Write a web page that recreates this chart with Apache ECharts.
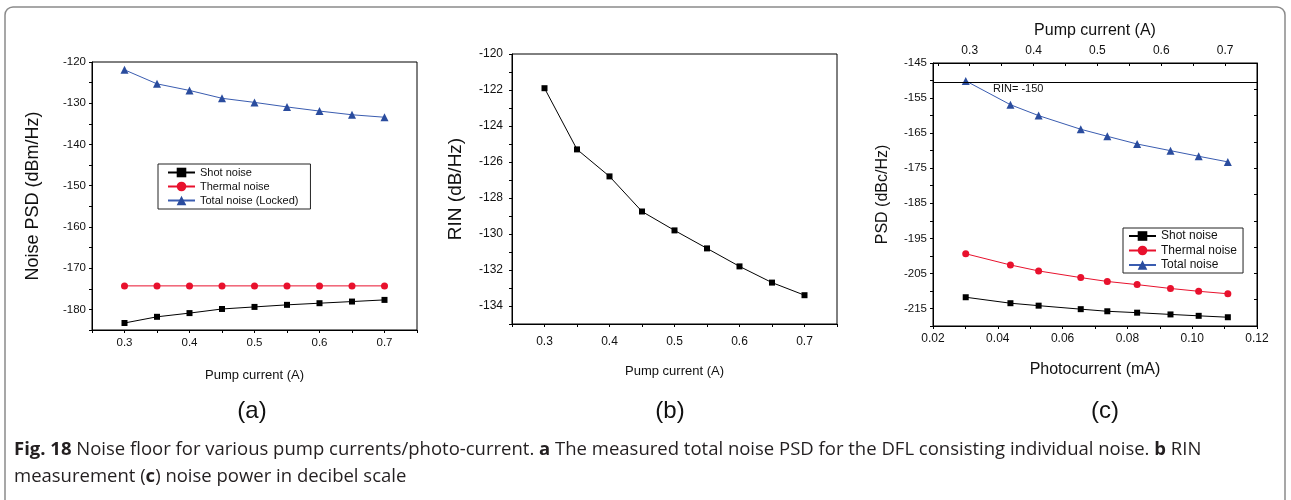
<!DOCTYPE html>
<html>
<head>
<meta charset="utf-8">
<script src="https://cdn.jsdelivr.net/npm/echarts@6/dist/echarts.min.js"></script>
<style>
html,body{margin:0;padding:0;background:#fff;}
#chart{width:1291px;height:500px;}
</style>
</head>
<body>
<div id="chart"></div>
<script>
// ---------- data ----------
const pumpCurrent = [0.3, 0.35, 0.4, 0.45, 0.5, 0.55, 0.6, 0.65, 0.7];
const aShot    = [-183.3, -181.8, -180.9, -179.9, -179.4, -178.9, -178.5, -178.1, -177.7];
const aThermal = [-174.3, -174.3, -174.3, -174.3, -174.3, -174.3, -174.3, -174.3, -174.3];
const aTotal   = [-121.9, -125.3, -126.9, -128.8, -129.8, -130.9, -131.9, -132.8, -133.4];
const bRIN     = [-121.9, -125.3, -126.8, -128.75, -129.8, -130.8, -131.8, -132.7, -133.4];
const photocurrent = [0.0301, 0.0439, 0.0526, 0.0656, 0.0738, 0.0830, 0.0933, 0.1020, 0.1110];
const cShot    = [-211.8, -213.5, -214.2, -215.2, -215.8, -216.2, -216.7, -217.1, -217.5];
const cThermal = [-199.4, -202.6, -204.3, -206.2, -207.3, -208.2, -209.3, -210.1, -210.8];
const cTotal   = [-150.1, -156.9, -160.0, -163.9, -165.9, -168.1, -170.0, -171.6, -173.2];
const rinLevel = -150.4;

// tick / label values
const pumpTicks  = [0.25, 0.3, 0.35, 0.4, 0.45, 0.5, 0.55, 0.6, 0.65, 0.7, 0.75];
const pumpLabels = [0.3, 0.4, 0.5, 0.6, 0.7];
const aYTicks  = [-185, -180, -175, -170, -165, -160, -155, -150, -145, -140, -135, -130, -125, -120];
const aYLabels = [-180, -170, -160, -150, -140, -130, -120];
const bYTicks  = [-135, -134, -133, -132, -131, -130, -129, -128, -127, -126, -125, -124, -123, -122, -121, -120];
const bYLabels = [-134, -132, -130, -128, -126, -124, -122, -120];
const cYTicks  = [-220, -215, -210, -205, -200, -195, -190, -185, -180, -175, -170, -165, -160, -155, -150, -145];
const cYLabels = [-215, -205, -195, -185, -175, -165, -155, -145];
const cYRightTicks = [-152.5, -160, -167.5, -175, -182.5, -190, -197.5, -205, -212.5];
const cXTicks  = [0.02, 0.03, 0.04, 0.05, 0.06, 0.07, 0.08, 0.09, 0.10, 0.11, 0.12];
const cXLabels = [0.02, 0.04, 0.06, 0.08, 0.10, 0.12];
const cTopTicks = [0.25, 0.3, 0.35, 0.4, 0.45, 0.5, 0.55, 0.6, 0.65, 0.7, 0.75];

const zip = (xs, ys) => xs.map((x, i) => [x, ys[i]]);

const FONT = "'Liberation Sans', Arial, sans-serif";
const CAPFONT = "'Open Sans', sans-serif";
const BLACK = '#000';
const RED = '#e8112d';
const BLUE_LINE = '#3a5cb0';
const BLUE_MARK = '#2a4c9e';

function axis(opts) {
  const fs = opts.fontSize || 12;
  return {
    type: 'value',
    gridIndex: opts.grid,
    position: opts.position,
    min: opts.min, max: opts.max,
    name: opts.name || '',
    nameLocation: 'middle',
    nameGap: opts.nameGap || 30,
    nameTextStyle: { fontFamily: FONT, fontSize: opts.nameSize || 14, color: '#111' },
    axisLine: { show: true, onZero: false, lineStyle: { color: BLACK, width: 1 } },
    axisTick: { show: opts.ticks !== false, inside: !!opts.inside, length: 3,
                customValues: opts.ticks || undefined, lineStyle: { color: BLACK, width: 1 } },
    axisLabel: { show: !!opts.labels, customValues: opts.labels || undefined, margin: opts.margin || 6,
                 fontFamily: FONT, fontSize: fs, color: '#111',
                 formatter: opts.formatter },
    splitLine: { show: false },
    minorTick: { show: false }
  };
}

function lineSeries(name, x, y, xi, yi, color, symbol, size, lineColor) {
  return {
    type: 'line', name: name, data: zip(x, y),
    xAxisIndex: xi, yAxisIndex: yi,
    symbol: symbol, symbolSize: size,
    lineStyle: { color: lineColor || color, width: 1 },
    itemStyle: { color: color },
    animation: false, silent: true
  };
}

const chart = echarts.init(document.getElementById('chart'), null, { renderer: 'canvas' });

const option = {
  backgroundColor: '#fff',
  animation: false,
  grid: [
    { left: 92, top: 62, width: 325, height: 268, show: true, borderColor: BLACK, borderWidth: 1 },
    { left: 512, top: 54, width: 325, height: 270, show: true, borderColor: BLACK, borderWidth: 1 },
    { left: 933, top: 63, width: 324, height: 263, show: true, borderColor: BLACK, borderWidth: 1 }
  ],
  xAxis: [
    axis({ grid: 0, position: 'bottom', min: 0.25, max: 0.75, ticks: pumpTicks, labels: pumpLabels, fontSize: 11.5, margin: 7,
           name: 'Pump current (A)', nameGap: 39, nameSize: 13 }),
    axis({ grid: 1, position: 'bottom', min: 0.25, max: 0.75, ticks: pumpTicks, labels: pumpLabels, fontSize: 12, margin: 12,
           name: 'Pump current (A)', nameGap: 41, nameSize: 13 }),
    axis({ grid: 2, position: 'bottom', min: 0.02, max: 0.12, ticks: cXTicks, labels: cXLabels, fontSize: 12, margin: 7,
           formatter: v => Number(v).toFixed(2),
           name: 'Photocurrent (mA)', nameGap: 36, nameSize: 16 }),
    axis({ grid: 2, position: 'top', min: 0.2425, max: 0.75, ticks: cTopTicks, labels: pumpLabels, inside: true, fontSize: 12, margin: 6,
           name: 'Pump current (A)', nameGap: 24, nameSize: 16 })
  ],
  yAxis: [
    axis({ grid: 0, position: 'left', min: -185, max: -120, ticks: aYTicks, labels: aYLabels, fontSize: 11.5, margin: 6,
           name: 'Noise PSD (dBm/Hz)', nameGap: 50, nameSize: 18 }),
    axis({ grid: 1, position: 'left', min: -135, max: -120, ticks: bYTicks, labels: bYLabels, fontSize: 12, margin: 9,
           name: 'RIN (dB/Hz)', nameGap: 47, nameSize: 19 }),
    axis({ grid: 2, position: 'left', min: -220, max: -145, ticks: cYTicks, labels: cYLabels, fontSize: 11.5, margin: 6,
           name: 'PSD (dBc/Hz)', nameGap: 42, nameSize: 16 }),
    axis({ grid: 2, position: 'right', min: -220, max: -145, ticks: cYRightTicks, inside: true })
  ],
  legend: [
    { left: 158, top: 164, orient: 'vertical', data: ['Shot noise', 'Thermal noise', 'Total noise (Locked)'],
      borderColor: '#222', borderWidth: 1, padding: [3, 12, 3, 9], itemWidth: 27, itemHeight: 12, itemGap: 3,
      textStyle: { fontFamily: FONT, fontSize: 11, color: '#111' }, selectedMode: false },
    { left: 1123, top: 228, orient: 'vertical', data: ['Shot noise', 'Thermal noise', 'Total noise'],
      borderColor: '#222', borderWidth: 1, padding: [2, 6, 2, 5], itemWidth: 27, itemHeight: 12, itemGap: 2.5,
      textStyle: { fontFamily: FONT, fontSize: 12, color: '#111' }, selectedMode: false }
  ],
  series: [
    lineSeries('Shot noise', pumpCurrent, aShot, 0, 0, BLACK, 'rect', 6),
    lineSeries('Thermal noise', pumpCurrent, aThermal, 0, 0, RED, 'circle', 7),
    lineSeries('Total noise (Locked)', pumpCurrent, aTotal, 0, 0, BLUE_MARK, 'triangle', 8, BLUE_LINE),
    lineSeries('RIN', pumpCurrent, bRIN, 1, 1, BLACK, 'rect', 6),
    lineSeries('Shot noise', photocurrent, cShot, 2, 2, BLACK, 'rect', 6),
    lineSeries('Thermal noise', photocurrent, cThermal, 2, 2, RED, 'circle', 7),
    Object.assign(lineSeries('Total noise', photocurrent, cTotal, 2, 2, BLUE_MARK, 'triangle', 8, BLUE_LINE), {
      markLine: { silent: true, symbol: 'none', label: { show: false },
                  lineStyle: { color: BLACK, type: 'solid', width: 1 },
                  data: [{ yAxis: rinLevel }] }
    })
  ],
  graphic: [
    { type: 'rect', shape: { x: 5, y: 7, width: 1280, height: 530, r: 8 }, silent: true,
      style: { fill: 'none', stroke: '#8a8a8a', lineWidth: 1.5 } },
    { type: 'text', x: 993, y: 89, silent: true,
      style: { text: 'RIN= -150', fontFamily: FONT, fontSize: 11, fill: '#111', verticalAlign: 'middle' } },
    { type: 'text', x: 252, y: 411, silent: true,
      style: { text: '(a)', fontFamily: FONT, fontSize: 24, fill: '#111', align: 'center', verticalAlign: 'middle' } },
    { type: 'text', x: 670, y: 411, silent: true,
      style: { text: '(b)', fontFamily: FONT, fontSize: 24, fill: '#111', align: 'center', verticalAlign: 'middle' } },
    { type: 'text', x: 1105, y: 411, silent: true,
      style: { text: '(c)', fontFamily: FONT, fontSize: 24, fill: '#111', align: 'center', verticalAlign: 'middle' } },
    { type: 'text', x: 14, y: 450, silent: true,
      style: { text: '{b|Fig. 18} Noise floor for various pump currents/photo-current. {b|a} The measured total noise PSD for the DFL consisting individual noise. {b|b} RIN',
               fontFamily: CAPFONT, fontSize: 18.5, fill: '#231f20', verticalAlign: 'middle',
               rich: { b: { fontFamily: CAPFONT, fontSize: 18.5, fontWeight: 'bold', fill: '#231f20' } } } },
    { type: 'text', x: 14, y: 477, silent: true,
      style: { text: 'measurement ({b|c}) noise power in decibel scale',
               fontFamily: CAPFONT, fontSize: 18.5, fill: '#231f20', verticalAlign: 'middle',
               rich: { b: { fontFamily: CAPFONT, fontSize: 18.5, fontWeight: 'bold', fill: '#231f20' } } } }
  ]
};

chart.setOption(option);
</script>
</body>
</html>
